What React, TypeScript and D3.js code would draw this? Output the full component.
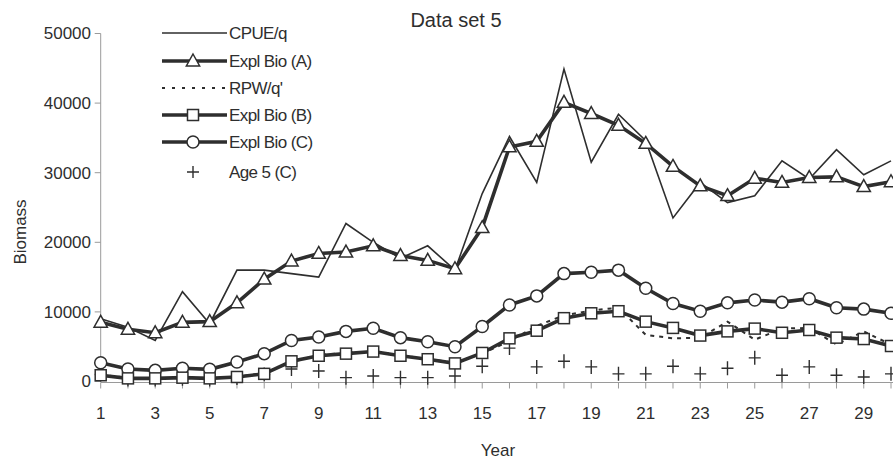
import React from "react";
import * as d3 from "d3";

const years = [1, 2, 3, 4, 5, 6, 7, 8, 9, 10, 11, 12, 13, 14, 15, 16, 17, 18, 19, 20, 21, 22, 23, 24, 25, 26, 27, 28, 29, 30];
const cpue = [9000, 7800, 5900, 12900, 8300, 16000, 16000, 15500, 15000, 22700, 20000, 17700, 19500, 16000, 27000, 35200, 28600, 44900, 31500, 38400, 34600, 23500, 28600, 25700, 26700, 31700, 29100, 33300, 29700, 31700];
const explA = [8500, 7500, 7000, 8500, 8600, 11300, 14700, 17300, 18400, 18600, 19500, 18100, 17400, 16200, 22100, 33700, 34500, 40100, 38500, 36800, 34200, 30900, 28100, 26700, 29200, 28600, 29300, 29400, 28000, 28700];
const rpw = [1000, 500, 450, 600, 450, 700, 1200, 2800, 3800, 4100, 4300, 3800, 3200, 2700, 4000, 5800, 8000, 9500, 10200, 10600, 6700, 6200, 6300, 8600, 6000, 7600, 7700, 5300, 7200, 5300];
const explB = [900, 450, 450, 550, 450, 650, 1100, 2900, 3700, 4000, 4300, 3700, 3200, 2600, 4100, 6200, 7300, 9100, 9800, 10100, 8600, 7700, 6600, 7200, 7600, 7000, 7400, 6300, 6100, 5100];
const explC = [2700, 1800, 1600, 1900, 1750, 2800, 4000, 5900, 6400, 7200, 7650, 6300, 5700, 5000, 7900, 11000, 12300, 15500, 15700, 16000, 13400, 11200, 10100, 11300, 11700, 11400, 11900, 10600, 10400, 9800];
const age5 = [1000, 300, 300, 400, 300, 500, 1000, 1800, 1500, 550, 800, 550, 550, 800, 2200, 4800, 2100, 2900, 2100, 1100, 1100, 2200, 1100, 1900, 3400, 900, 2100, 900, 650, 1100];
const yTicks = [0, 10000, 20000, 30000, 40000, 50000];
const xLabelTicks = [1, 3, 5, 7, 9, 11, 13, 15, 17, 19, 21, 23, 25, 27, 29];
const legendLabels = ["CPUE/q", "Expl Bio (A)", "RPW/q'", "Expl Bio (B)", "Expl Bio (C)", "Age 5 (C)"];

const W = 893;
const H = 461;
const INK = "#2e2e2e";
const FONT = "'Liberation Sans', Arial, sans-serif";

export default function App() {
  const x = d3.scaleLinear().domain([1, 30]).range([100.7, 891]);
  const y = d3.scaleLinear().domain([0, 50000]).range([381.5, 33.5]);
  const line = (vals: number[]) =>
    d3.line<number>().x((_, i) => x(years[i])).y((v) => y(v))(vals) || "";

  const tri = (cx: number, cy: number, s = 7) =>
    `M${cx},${cy - s}L${cx + s * 0.95},${cy + s * 0.7}L${cx - s * 0.95},${cy + s * 0.7}Z`;

  const lineStroke = 3.6;
  const legendY = [33, 61, 88, 115, 142, 172];
  const lx0 = 162, lx1 = 227, lmx = 193;

  return (
    <svg width={W} height={H} style={{ position: "absolute", left: 0, top: 0, background: "#fff" }} fontFamily={FONT}>
      <rect x={0} y={0} width={W} height={H} fill="#fff" />
      {/* axes */}
      <line x1={x(1)} x2={x(1)} y1={y(50000)} y2={y(0)} stroke="#9a9a9a" strokeWidth={1} />
      <line x1={x(1)} x2={W} y1={y(0) + 1} y2={y(0) + 1} stroke="#9a9a9a" strokeWidth={1} />
      {yTicks.map((t) => (
        <g key={"yt" + t}>
          <line x1={x(1) - 6} x2={x(1)} y1={y(t)} y2={y(t)} stroke="#9a9a9a" />
          <text x={91} y={y(t)} dy="0.35em" textAnchor="end" fontSize={17} fill={INK}>{t}</text>
        </g>
      ))}
      {years.map((t) => (
        <line key={"xt" + t} x1={x(t)} x2={x(t)} y1={y(0) + 1} y2={y(0) + 7} stroke="#9a9a9a" />
      ))}
      {xLabelTicks.map((t) => (
        <text key={"xl" + t} x={x(t)} y={413} dy="0.35em" textAnchor="middle" fontSize={17} fill={INK}>{t}</text>
      ))}
      <text x={498} y={450} dy="0.35em" textAnchor="middle" fontSize={17} fill={INK}>Year</text>
      <text transform={`translate(20,232) rotate(-90)`} dy="0.35em" textAnchor="middle" fontSize={17} fill={INK}>Biomass</text>
      <text x={456} y={20} dy="0.35em" textAnchor="middle" fontSize={20} fill={INK}>Data set 5</text>

      {/* Age 5 crosses */}
      {age5.map((v, i) => (
        <path key={"a5" + i} d={`M${x(years[i]) - 6},${y(v)}H${x(years[i]) + 6}M${x(years[i])},${y(v) - 7}V${y(v) + 7}`} stroke={INK} strokeWidth={1.4} fill="none" />
      ))}
      {/* CPUE */}
      <path d={line(cpue)} fill="none" stroke={INK} strokeWidth={1.6} strokeLinejoin="miter" />
      {/* RPW */}
      <path d={line(rpw)} fill="none" stroke={INK} strokeWidth={2} strokeDasharray="4,5" />
      {/* C */}
      <path d={line(explC)} fill="none" stroke={INK} strokeWidth={lineStroke} />
      {explC.map((v, i) => (
        <circle key={"c" + i} cx={x(years[i])} cy={y(v)} r={6} fill="#fff" stroke={INK} strokeWidth={1.5} />
      ))}
      {/* B */}
      <path d={line(explB)} fill="none" stroke={INK} strokeWidth={lineStroke} />
      {explB.map((v, i) => (
        <rect key={"b" + i} x={x(years[i]) - 5.5} y={y(v) - 5.5} width={11} height={11} fill="#fff" stroke={INK} strokeWidth={1.5} />
      ))}
      {/* A */}
      <path d={line(explA)} fill="none" stroke={INK} strokeWidth={lineStroke} />
      {explA.map((v, i) => (
        <path key={"a" + i} d={tri(x(years[i]), y(v))} fill="#fff" stroke={INK} strokeWidth={1.5} />
      ))}

      {/* legend */}
      <g>
        <line x1={lx0} x2={lx1} y1={legendY[0]} y2={legendY[0]} stroke={INK} strokeWidth={1.6} />
        <line x1={lx0} x2={lx1} y1={legendY[1]} y2={legendY[1]} stroke={INK} strokeWidth={lineStroke} />
        <path d={tri(lmx, legendY[1])} fill="#fff" stroke={INK} strokeWidth={1.5} />
        <line x1={lx0} x2={lx1} y1={legendY[2]} y2={legendY[2]} stroke={INK} strokeWidth={2} strokeDasharray="3,7" />
        <line x1={lx0} x2={lx1} y1={legendY[3]} y2={legendY[3]} stroke={INK} strokeWidth={lineStroke} />
        <rect x={lmx - 5.5} y={legendY[3] - 5.5} width={11} height={11} fill="#fff" stroke={INK} strokeWidth={1.5} />
        <line x1={lx0} x2={lx1} y1={legendY[4]} y2={legendY[4]} stroke={INK} strokeWidth={lineStroke} />
        <circle cx={lmx} cy={legendY[4]} r={6} fill="#fff" stroke={INK} strokeWidth={1.5} />
        <path d={`M${lmx - 6},${legendY[5]}H${lmx + 6}M${lmx},${legendY[5] - 6}V${legendY[5] + 6}`} stroke={INK} strokeWidth={1.4} />
        {legendLabels.map((l, i) => (
          <text key={l} x={lx1 + 2} y={legendY[i]} dy="0.35em" fontSize={17} fill={INK} letterSpacing={-0.6}>{l}</text>
        ))}
      </g>
    </svg>
  );
}
